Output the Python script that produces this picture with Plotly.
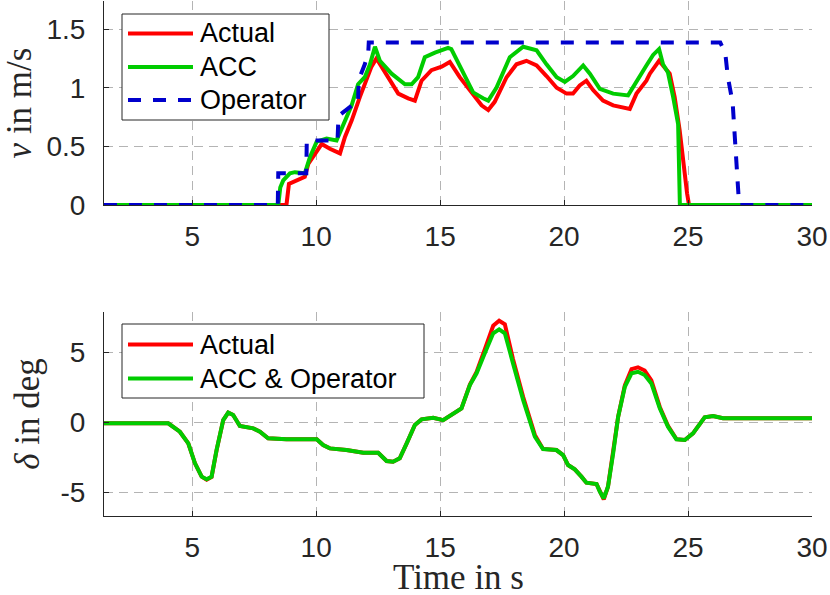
import plotly.graph_objects as go

# speed plot data
t_actual = [1.44, 8.8, 8.9, 9.27, 9.54, 9.68, 9.95, 10.22, 10.55, 10.96, 11.16, 11.43, 11.76,
            11.96, 12.23, 12.43, 12.9, 13.31, 13.71, 13.98, 14.25, 14.65, 15.06, 15.39, 15.79,
            16.33, 16.67, 16.94, 17.2, 17.68, 18.08, 18.48, 18.89, 19.29, 19.7, 20.1, 20.36,
            20.63, 20.9, 21.17, 21.57, 21.98, 22.65, 22.92, 23.32, 23.46, 23.83, 24.26, 24.46,
            24.66, 24.8, 24.96, 25.04, 30]
v_actual = [0, 0, 0.18, 0.21, 0.24, 0.35, 0.44, 0.52, 0.48, 0.44, 0.58, 0.72, 0.92,
            1.03, 1.18, 1.25, 1.09, 0.95, 0.91, 0.89, 1.06, 1.15, 1.18, 1.22, 1.09,
            0.935, 0.85, 0.81, 0.88, 1.09, 1.2, 1.23, 1.19, 1.1, 1.0, 0.95, 0.95,
            1.02, 1.06, 0.98, 0.89, 0.85, 0.82, 0.95, 1.06, 1.12, 1.23, 1.12, 0.92,
            0.64, 0.35, 0.1, 0, 0]

t_acc = [1.44, 8.47, 8.55, 8.67, 8.94, 9.14, 9.54, 9.75, 10.02, 10.42, 10.82, 11.16, 11.43,
         11.69, 11.96, 12.17, 12.37, 12.57, 13.04, 13.58, 13.85, 14.11, 14.38, 14.79, 15.32,
         15.45, 15.79, 16.33, 16.73, 16.94, 17.27, 17.81, 18.35, 18.89, 19.29, 19.7, 20.03,
         20.36, 20.77, 21.04, 21.44, 21.98, 22.58, 22.92, 23.32, 23.59, 23.83, 23.99, 24.19,
         24.4, 24.6, 24.67, 30]
v_acc = [0, 0, 0.15, 0.21, 0.27, 0.28, 0.27, 0.41, 0.54, 0.566, 0.55, 0.72, 0.85,
         1.03, 1.09, 1.2, 1.35, 1.23, 1.12, 1.03, 1.03, 1.09, 1.26, 1.3, 1.34,
         1.33, 1.18, 0.96, 0.91, 0.89, 1.0, 1.26, 1.35, 1.32, 1.2, 1.09, 1.05,
         1.1, 1.19, 1.12, 0.99, 0.95, 0.935, 1.06, 1.19, 1.28, 1.33, 1.2, 1.13,
         0.92, 0.69, 0, 0]

t_oper = [1.44, 8.45, 8.47, 9.6, 9.62, 10.86, 10.9, 11.45, 11.68, 11.72, 11.96, 12.1, 12.12,
          26.3, 26.5, 26.6, 26.8, 27.0, 27.06, 30]
v_oper = [0, 0, 0.27, 0.27, 0.55, 0.55, 0.76, 0.85, 0.86, 1.07, 1.2, 1.3, 1.385,
          1.385, 1.3, 1.1, 0.87, 0.25, 0, 0]

# steering plot data
t_steer = [1.44, 4.03, 4.5, 4.84, 5.11, 5.38, 5.58, 5.78, 5.98, 6.25, 6.45, 6.65, 6.92, 7.46,
           7.73, 8.06, 8.8, 10.02, 10.28, 10.55, 11.22, 11.9, 12.5, 12.84, 13.1, 13.37, 13.65,
           13.98, 14.25, 14.72, 15.12, 15.46, 15.86, 16.2, 16.47, 16.8, 17.14, 17.38, 17.61,
           17.94, 18.35, 18.82, 19.15, 19.69, 19.96, 20.16, 20.43, 20.7, 20.9, 21.31, 21.44,
           21.6, 21.77, 21.98, 22.18, 22.45, 22.72, 22.98, 23.25, 23.52, 23.86, 24.19, 24.53,
           24.87, 25.2, 25.67, 26.01, 26.41, 30]
d_acc = [-0.07, -0.07, -0.67, -1.5, -2.93, -3.88, -4.07, -3.88, -1.98, 0.16, 0.69, 0.52, -0.26,
         -0.43, -0.67, -1.14, -1.21, -1.21, -1.62, -1.86, -1.98, -2.17, -2.17, -2.76, -2.81,
         -2.57, -1.5, -0.19, 0.21, 0.33, 0.16, 0.52, 1.0, 2.66, 3.5, 4.93, 6.36, 6.64, 6.36,
         4.21, 1.59, -1.03, -1.91, -1.98, -2.34, -3.05, -3.36, -3.88, -4.31, -4.41, -4.95,
         -5.43, -4.6, -2.21, 0.4, 2.54, 3.5, 3.61, 3.38, 2.78, 1.0, -0.31, -1.21,
         -1.26, -0.79, 0.36, 0.45, 0.29, 0.29]
d_actual = [-0.07, -0.07, -0.67, -1.5, -2.93, -3.88, -4.1, -3.9, -2.0, 0.16, 0.69, 0.52, -0.26,
            -0.43, -0.67, -1.14, -1.21, -1.21, -1.62, -1.86, -1.98, -2.17, -2.17, -2.76, -2.81,
            -2.57, -1.5, -0.19, 0.21, 0.33, 0.16, 0.52, 1.0, 2.7, 3.6, 5.2, 6.9, 7.25, 7.0,
            4.5, 1.8, -0.9, -1.9, -1.98, -2.34, -3.05, -3.36, -3.88, -4.31, -4.41, -4.95,
            -5.5, -4.6, -2.21, 0.4, 2.65, 3.8, 3.93, 3.7, 3.0, 1.1, -0.25, -1.2,
            -1.26, -0.79, 0.36, 0.45, 0.29, 0.29]

t_ticks = [5, 10, 15, 20, 25, 30]
v_ticks = [0, 0.5, 1, 1.5]
d_ticks = [-5, 0, 5]
d_ticktext = ["-5", "0", "5"]

RED = "#ff0000"
GREEN = "#00cc00"
BLUE = "#0000cc"
AX = "#262626"
GRID = "#b4b4b4"
LW = 4

W, H = 830, 595
ML, MR, MT, MB = 104, 18, 1, 79


def px(x):
    return (x - ML) / (W - ML - MR)


def py(y):
    return (H - MB - y) / (H - MT - MB)


fig = go.Figure()
fig.add_trace(go.Scatter(x=t_actual, y=v_actual, mode="lines", line=dict(color=RED, width=LW),
                         xaxis="x", yaxis="y"))
fig.add_trace(go.Scatter(x=t_acc, y=v_acc, mode="lines", line=dict(color=GREEN, width=LW),
                         xaxis="x", yaxis="y"))
fig.add_trace(go.Scatter(x=t_oper, y=v_oper, mode="lines",
                         line=dict(color=BLUE, width=LW, dash="13px,12px"),
                         xaxis="x", yaxis="y"))
fig.add_trace(go.Scatter(x=t_steer, y=d_actual, mode="lines", line=dict(color=RED, width=LW),
                         xaxis="x2", yaxis="y2"))
fig.add_trace(go.Scatter(x=t_steer, y=d_acc, mode="lines", line=dict(color=GREEN, width=LW),
                         xaxis="x2", yaxis="y2"))

tick_font = dict(family="Liberation Sans, Arial, sans-serif", size=28, color=AX)
title_font = dict(family="Liberation Serif, Times New Roman, serif", size=35, color=AX)

xcommon = dict(range=[1.44, 30], tickvals=t_ticks, showgrid=True, gridcolor=GRID, griddash="9px,6px",
               gridwidth=1, zeroline=False, showline=True, linecolor=AX, linewidth=1,
               ticks="inside", ticklen=5, tickcolor=AX, tickfont=tick_font,
               ticklabelstandoff=6, automargin=False)
ycommon = dict(showgrid=True, gridcolor=GRID, griddash="9px,6px", gridwidth=1, zeroline=False,
               showline=True, linecolor=AX, linewidth=1, ticks="inside", ticklen=5,
               tickcolor=AX, tickfont=tick_font, ticklabelstandoff=12, automargin=False)

top_lo = py(205)
bot_hi = py(312)

fig.update_layout(
    width=W, height=H,
    margin=dict(l=ML, r=MR, t=MT, b=MB),
    paper_bgcolor="white", plot_bgcolor="white",
    showlegend=False,
    xaxis=dict(domain=[0, 1], anchor="y", **xcommon),
    yaxis=dict(domain=[top_lo, 1], anchor="x", range=[0, 1.74], tickvals=v_ticks,
               title=dict(text="<i>v</i> in m/s", font=title_font, standoff=10), **ycommon),
    xaxis2=dict(domain=[0, 1], anchor="y2", **xcommon),
    yaxis2=dict(domain=[0, bot_hi], anchor="x2", range=[-6.69, 7.88], tickvals=d_ticks,
                ticktext=d_ticktext,
                title=dict(text="<i>δ</i> in deg", font=title_font, standoff=10), **ycommon),
)

# legends drawn as boxes with line samples (MATLAB style, long sample lines)
legend_font = dict(family="Liberation Sans, Arial, sans-serif", size=27, color="black")
shapes = []
annotations = []


def add_legend(x0, y0, x1, y1, entries):
    shapes.append(dict(type="rect", xref="paper", yref="paper", x0=px(x0), x1=px(x1),
                       y0=py(y1), y1=py(y0), fillcolor="white",
                       line=dict(color="#262626", width=1), layer="above"))
    for ypos, label, color, dash in entries:
        shapes.append(dict(type="line", xref="paper", yref="paper", x0=px(128), x1=px(193),
                           y0=py(ypos), y1=py(ypos), layer="above",
                           line=dict(color=color, width=LW, dash=dash)))
        annotations.append(dict(xref="paper", yref="paper", x=px(198), y=py(ypos), text=label,
                                showarrow=False, xanchor="left", yanchor="middle",
                                font=legend_font))


add_legend(122, 14, 329, 120, [(33.5, "Actual", RED, "solid"),
                               (67, "ACC", GREEN, "solid"),
                               (100, "Operator", BLUE, "13px,12px")])
add_legend(122, 324, 424, 398, [(344.5, "Actual", RED, "solid"),
                                (378.5, "ACC &amp; Operator", GREEN, "solid")])

# x-axis title as annotation so it can sit right at the bottom edge like the original
annotations.append(dict(xref="paper", yref="paper", x=0.5, y=py(577), text="Time in s",
                        showarrow=False, xanchor="center", yanchor="middle", font=title_font))

fig.update_layout(shapes=shapes, annotations=annotations)

# page has a default body margin; drop it so the figure sits at the window corner
fig.write_html("out.html", config={"displayModeBar": False},
               post_script="document.body.style.margin='0';")
